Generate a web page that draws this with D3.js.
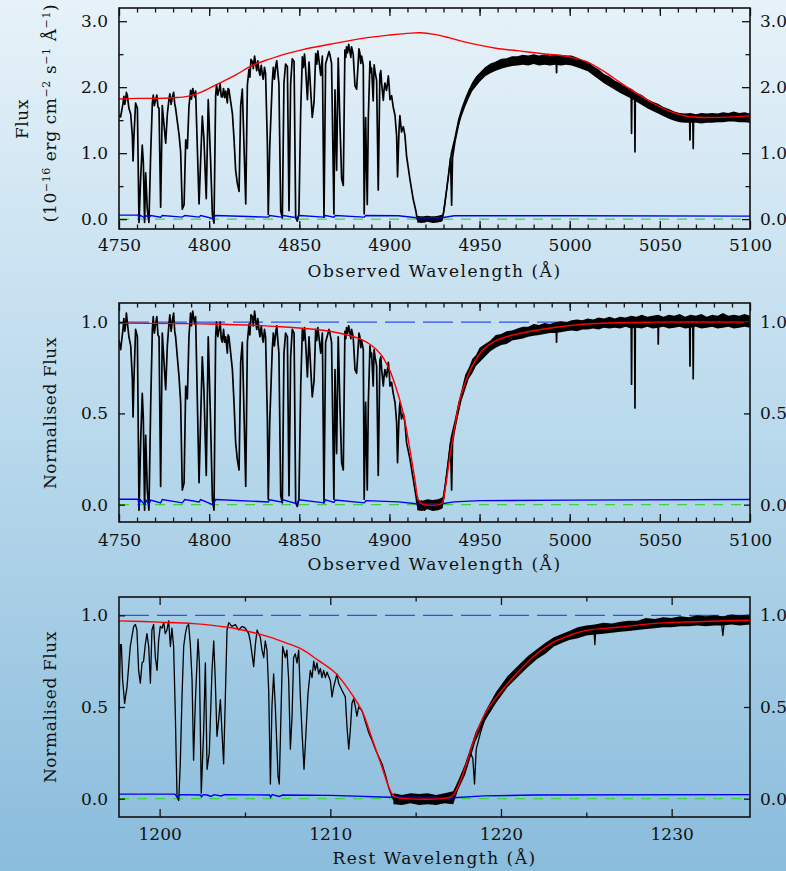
<!DOCTYPE html>
<html><head><meta charset="utf-8">
<script src="https://cdn.jsdelivr.net/npm/d3@7"></script>
<style>
html,body{margin:0;padding:0;}
body{width:786px;height:871px;overflow:hidden;}
</style></head><body><div id="chart"></div>
<script>
// ---- panel 1: observed flux (10^-16 erg/cm2/s/A) ----
const p1Flux = [
 [4750.0,1.58],[4750.9,1.55],[4752.2,1.75],[4752.7,1.86],[4753.2,1.74],[4753.7,1.81],[4754.1,1.92],[4754.6,1.88],[4755.5,1.68],[4756.5,1.59],[4757.4,1.26],[4757.8,0.88],
 [4758.3,1.26],[4759.2,1.76],[4760.2,1.68],[4761.1,-0.05],[4762.0,0.62],[4762.9,1.12],[4763.5,0.86],[4764.2,-0.05],[4764.8,0.70],[4765.7,0.15],[4766.6,-0.05],[4767.6,1.02],
 [4768.5,1.76],[4769.0,1.88],[4769.6,1.72],[4770.3,1.81],[4771.0,1.88],[4771.6,1.70],[4772.2,1.68],[4773.1,0.18],[4774.0,1.72],[4775.9,1.15],[4776.8,1.59],[4777.7,1.81],
 [4778.2,1.90],[4778.9,1.74],[4779.6,1.85],[4780.3,1.92],[4780.9,1.75],[4781.4,1.68],[4783.3,1.28],[4784.2,1.02],[4785.1,0.15],[4786.1,0.22],[4787.0,1.20],[4787.9,1.07],
 [4788.8,1.70],[4789.7,1.95],[4790.2,1.82],[4790.9,1.98],[4791.6,1.89],[4792.0,1.85],[4792.5,1.94],[4794.4,0.23],[4795.3,0.90],[4796.2,1.56],[4797.1,1.22],[4798.4,0.31],
 [4799.5,1.81],[4800.8,0.89],[4801.8,0.06],[4802.7,-0.06],[4803.6,1.86],[4804.1,2.04],[4804.8,1.88],[4805.5,1.96],[4806.1,2.05],[4806.7,1.86],[4807.3,1.85],[4808.0,1.98],
 [4808.6,1.84],[4809.2,1.94],[4810.1,1.76],[4810.5,1.98],[4811.0,1.96],[4812.9,1.60],[4813.8,1.22],[4814.7,0.74],[4815.6,0.55],[4816.6,0.42],[4817.5,1.72],[4818.4,1.97],
 [4820.3,0.23],[4821.2,2.03],[4822.1,2.27],[4822.6,2.15],[4823.2,2.42],[4824.0,2.39],[4824.5,2.28],[4825.2,2.47],[4825.8,2.36],[4826.4,2.25],[4827.0,2.40],[4827.6,2.26],
 [4828.2,2.18],[4828.9,2.33],[4829.5,2.19],[4830.0,2.12],[4830.7,2.30],[4831.3,2.21],[4832.3,1.14],[4832.8,0.07],[4833.6,1.09],[4835.0,2.07],[4835.6,2.30],[4836.2,2.12],
 [4836.9,2.31],[4837.5,2.40],[4838.1,2.22],[4838.7,2.05],[4839.7,0.12],[4840.6,0.02],[4841.5,2.07],[4842.4,2.35],[4843.4,2.31],[4844.3,0.13],[4845.2,2.05],[4846.1,2.43],
 [4847.1,2.39],[4848.0,0.03],[4848.9,-0.03],[4849.8,0.08],[4850.8,1.66],[4851.7,2.46],[4852.3,2.30],[4852.9,2.50],[4853.5,2.29],[4854.5,1.81],[4855.4,2.38],[4857.2,1.54],
 [4858.2,1.78],[4859.1,2.51],[4859.7,2.35],[4860.3,2.55],[4860.9,2.41],[4861.9,2.18],[4862.8,2.47],[4863.7,0.03],[4864.6,2.35],[4866.5,2.54],
 [4867.0,2.49],[4867.9,2.36],[4869.2,0.08],[4869.8,1.96],[4870.7,0.74],[4871.6,2.44],[4872.5,1.49],[4873.5,0.61],[4874.4,0.51],[4875.3,2.56],[4875.8,2.45],[4876.2,2.61],
 [4876.8,2.52],[4877.4,2.65],[4878.1,2.54],[4878.6,2.45],[4879.0,2.61],[4879.9,2.50],[4880.9,2.02],[4881.8,1.97],[4882.7,2.38],[4883.1,2.58],[4883.6,2.52],[4884.1,2.36],
 [4884.6,2.47],[4885.5,2.33],[4886.0,0.08],[4886.8,1.54],[4887.7,0.22],[4888.3,1.54],[4889.2,2.39],[4889.7,2.22],[4890.1,2.29],[4891.0,1.79],[4891.5,2.34],[4892.0,2.24],
 [4892.9,2.10],[4893.8,0.44],[4894.7,2.19],[4895.2,2.25],[4895.7,2.05],[4896.6,1.80],[4897.0,1.95],[4897.5,2.06],[4898.4,1.95],[4898.9,2.05],[4899.4,2.17],[4899.9,2.00],
 [4900.3,1.81],[4901.2,1.87],[4902.1,1.70],[4903.1,1.57],[4904.0,1.26],[4904.5,0.64],[4905.3,1.34],[4905.8,1.57],[4906.7,1.32],[4907.7,1.40],[4908.6,1.27],[4909.5,0.96],
 [4911.4,0.60],[4913.2,0.30],[4914.7,0.12],[4915.4,0.00],
 [4916.5,-0.03],[4918.0,0.03],[4919.5,-0.04],[4921.0,0.02],[4922.5,-0.03],[4924.0,0.03],[4925.5,-0.02],[4927.0,0.02],[4928.5,-0.03],[4929.9,0.08],
 [4930.8,0.25],[4932.6,0.63],[4933.9,0.93],[4934.5,0.21],[4935.0,0.93],[4936.3,1.17],[4939.1,1.54],[4942.8,1.82],[4946.5,2.03],[4952.0,2.22],[4959.4,2.33],[4968.7,2.39],
 [4984.0,2.41],[4992.5,2.41],[4992.7,2.22],[4992.9,2.41],[5000.0,2.41],[5009.4,2.33],[5014.9,2.21],[5020.5,2.11],[5026.0,2.01],[5031.6,1.93],[5034.1,1.90],[5034.3,1.30],
 [5034.5,1.89],[5036.0,1.87],[5036.2,1.02],[5036.4,1.86],[5042.7,1.75],[5048.2,1.68],[5053.7,1.60],[5059.3,1.55],[5066.5,1.53],[5066.7,1.20],[5066.9,1.53],[5068.3,1.53],
 [5068.5,1.07],[5068.7,1.53],[5075.9,1.53],[5090.7,1.55],[5100.0,1.53]
];
// noise envelope [wavelength, low, high] where the spectrum is a dense band
const p1Noise = [
 [4915.4,-0.05,0.05],[4918,-0.06,0.04],[4921,-0.04,0.05],[4924,-0.06,0.04],[4927,-0.05,0.05],[4929.5,-0.03,0.07],[4930.8,0.16,0.32],[4932.6,0.56,0.70],
 [4933.9,0.86,1.00],[4936,1.10,1.24],[4938,1.37,1.51],[4940,1.55,1.69],[4942,1.70,1.84],[4944,1.83,1.97],[4946,1.94,2.08],[4948,2.01,2.16],[4950,2.08,2.22],
 [4953,2.16,2.30],[4956,2.21,2.36],[4959,2.25,2.39],[4962,2.28,2.43],[4965,2.30,2.44],[4968,2.32,2.47],[4971,2.33,2.47],[4974,2.34,2.49],[4977,2.33,2.48],
 [4980,2.35,2.50],[4983,2.33,2.48],[4986,2.34,2.50],[4989,2.33,2.48],[4992,2.34,2.49],[4995,2.33,2.49],[4998,2.34,2.48],[5001,2.33,2.48],[5004,2.30,2.45],
 [5007,2.27,2.41],[5010,2.24,2.39],[5013,2.18,2.32],[5016,2.12,2.27],[5019,2.06,2.20],[5022,2.01,2.16],[5025,1.96,2.10],[5028,1.91,2.06],[5031,1.87,2.01],
 [5034,1.83,1.98],[5037,1.78,1.92],[5040,1.73,1.88],[5043,1.68,1.82],[5046,1.64,1.78],[5049,1.60,1.75],[5052,1.56,1.70],[5055,1.52,1.67],[5058,1.49,1.63],
 [5061,1.47,1.61],[5064,1.46,1.60],[5067,1.46,1.61],[5070,1.46,1.59],[5073,1.45,1.61],[5076,1.46,1.60],[5079,1.46,1.61],[5082,1.47,1.60],[5085,1.47,1.62],
 [5088,1.48,1.61],[5091,1.48,1.63],[5094,1.47,1.61],[5097,1.47,1.62],[5100,1.46,1.60]
];
const p1Cont = [
 [4750,1.82],[4760,1.83],[4770,1.83],[4780,1.84],[4788,1.86],[4796,1.93],[4805,2.05],[4815,2.19],[4824,2.33],[4833,2.42],[4842,2.50],[4852,2.57],
 [4867,2.65],[4885,2.74],[4900,2.79],[4910,2.815],[4917,2.825],[4925,2.80],[4933,2.75],[4941,2.69],[4959,2.59],[4972,2.55],[4984,2.51],[5000,2.46],[5009,2.39],
 [5019,2.24],[5028,2.07],[5037,1.91],[5046,1.76],[5056,1.63],[5065,1.56],[5076,1.54],[5091,1.55],[5100,1.565]
];
const p1Err = [
 [4750,0.06],[4760.5,0.06],[4761.1,0.02],[4762,0.055],[4764.2,0.02],[4765,0.055],[4766.6,0.02],[4767.6,0.055],[4773.1,0.03],[4774,0.055],[4785.1,0.03],[4786.5,0.055],
 [4794.4,0.03],[4795.3,0.055],[4802,0.01],[4803.6,0.055],[4832.8,0.03],[4833.6,0.055],[4840,0.03],[4841,0.055],[4848.5,0.02],[4850,0.055],[4863.7,0.03],[4864.6,0.055],
 [4869.2,0.03],[4870,0.055],[4886,0.03],[4887,0.055],[4905,0.05],[4915,0.02],[4929,0.02],[4936,0.05],[5000,0.05],[5100,0.045]
];

// ---- panel 2: normalised flux vs observed wavelength ----
const p2Norm = [
 [4750.0,0.90],[4750.9,0.85],[4752.2,0.96],[4752.7,1.02],[4753.2,0.95],[4753.7,0.99],[4754.1,1.05],[4754.6,1.00],[4755.5,0.92],[4756.5,0.87],[4757.4,0.69],[4757.8,0.48],
 [4758.3,0.69],[4759.2,0.96],[4760.2,0.92],[4761.1,-0.03],[4762.0,0.34],[4762.9,0.61],[4763.5,0.47],[4764.2,-0.03],[4764.8,0.38],[4765.7,0.08],[4766.6,-0.03],[4767.6,0.56],
 [4768.5,0.96],[4769.0,1.03],[4769.6,0.94],[4770.3,0.99],[4771.0,1.03],[4771.6,0.93],[4772.2,0.92],[4773.1,0.10],[4774.0,0.94],[4775.9,0.63],[4776.8,0.87],[4777.7,0.99],
 [4778.2,1.04],[4778.9,0.95],[4779.6,1.01],[4780.3,1.05],[4780.9,0.95],[4781.4,0.92],[4783.3,0.70],[4784.2,0.56],[4785.1,0.08],[4786.1,0.12],[4787.0,0.65],[4787.9,0.58],
 [4788.8,0.92],[4789.7,1.05],[4790.2,0.98],[4790.9,1.06],[4791.6,1.01],[4792.0,0.99],[4792.5,1.03],[4794.4,0.12],[4795.3,0.47],[4796.2,0.81],[4797.1,0.63],[4798.4,0.16],
 [4799.5,0.92],[4800.8,0.45],[4801.8,0.03],[4802.7,-0.03],[4803.6,0.92],[4804.1,1.00],[4804.8,0.92],[4805.5,0.96],[4806.1,1.00],[4806.7,0.91],[4807.3,0.89],[4808.0,0.96],
 [4808.6,0.89],[4809.2,0.92],[4810.1,0.83],[4810.5,0.93],[4811.0,0.92],[4812.9,0.74],[4813.8,0.56],[4814.7,0.34],[4815.6,0.25],[4816.6,0.19],[4817.5,0.78],[4818.4,0.89],
 [4820.3,0.10],[4821.2,0.89],[4822.1,0.99],[4822.6,0.93],[4823.2,1.04],[4824.0,1.03],[4824.5,0.98],[4825.2,1.06],[4825.8,1.01],[4826.4,0.96],[4827.0,1.02],[4827.6,0.96],
 [4828.2,0.92],[4828.9,0.98],[4829.5,0.92],[4830.0,0.89],[4830.7,0.96],[4831.3,0.92],[4832.3,0.47],[4832.8,0.03],[4833.6,0.45],[4835.0,0.85],[4835.6,0.94],[4836.2,0.87],
 [4836.9,0.94],[4837.5,0.98],[4838.1,0.90],[4838.7,0.83],[4839.7,0.05],[4840.6,0.01],[4841.5,0.83],[4842.4,0.94],[4843.4,0.92],[4844.3,0.05],[4845.2,0.81],[4846.1,0.96],
 [4847.1,0.94],[4848.0,0.01],[4848.9,-0.01],[4849.8,0.03],[4850.8,0.65],[4851.7,0.96],[4852.3,0.90],[4852.9,0.97],[4853.5,0.89],[4854.5,0.70],[4855.4,0.92],[4857.2,0.59],
 [4858.2,0.68],[4859.1,0.96],[4859.7,0.90],[4860.3,0.97],[4860.9,0.92],[4861.9,0.83],[4862.8,0.94],[4863.7,0.01],[4864.6,0.89],[4866.5,0.96],
 [4867.0,0.94],[4867.9,0.89],[4869.2,0.03],[4869.8,0.74],[4870.7,0.28],[4871.6,0.92],[4872.5,0.56],[4873.5,0.23],[4874.4,0.19],[4875.3,0.95],[4875.8,0.91],[4876.2,0.97],
 [4876.8,0.94],[4877.4,0.98],[4878.1,0.94],[4878.6,0.91],[4879.0,0.96],[4879.9,0.92],[4880.9,0.74],[4881.8,0.72],[4882.7,0.87],[4883.1,0.94],[4883.6,0.92],[4884.1,0.86],
 [4884.6,0.90],[4885.5,0.85],[4886.0,0.03],[4886.8,0.56],[4887.7,0.08],[4888.3,0.56],[4889.2,0.87],[4889.7,0.81],[4890.1,0.83],[4891.0,0.65],[4891.5,0.85],[4892.0,0.81],
 [4892.9,0.76],[4893.8,0.16],[4894.7,0.79],[4895.2,0.81],[4895.7,0.74],[4896.6,0.65],[4897.0,0.70],[4897.5,0.74],[4898.4,0.70],[4898.9,0.74],[4899.4,0.78],[4899.9,0.72],
 [4900.3,0.65],[4901.2,0.67],[4902.1,0.61],[4903.1,0.56],[4904.0,0.45],[4904.5,0.23],[4905.3,0.48],[4905.8,0.56],[4906.7,0.47],[4907.7,0.50],[4908.6,0.45],[4909.5,0.34],
 [4911.4,0.25],[4913.2,0.14],[4914.7,0.05],[4915.4,0.00],
 [4916.5,-0.02],[4918.0,0.02],[4919.5,-0.03],[4921.0,0.01],[4922.5,-0.02],[4924.0,0.02],[4925.5,-0.02],[4927.0,0.01],[4928.5,-0.02],[4929.9,0.03],
 [4930.8,0.09],[4932.6,0.23],[4933.9,0.34],[4934.5,0.08],[4935.0,0.34],[4936.3,0.43],[4939.1,0.57],[4942.8,0.68],[4946.5,0.77],[4952.0,0.85],[4959.4,0.90],[4968.7,0.93],
 [4984.0,0.96],[4992.5,0.97],[4992.7,0.89],[4992.9,0.97],[5009.0,0.99],[5034.1,1.00],[5034.3,0.66],[5034.5,1.00],[5036.0,1.00],[5036.2,0.53],[5036.4,1.00],[5049.0,1.00],
 [5049.1,0.88],[5049.3,1.00],[5066.5,1.00],[5066.7,0.76],[5066.9,1.00],[5068.3,1.00],[5068.5,0.69],[5068.7,1.00],[5100.0,1.00]
];
const p2Noise = [
 [4915.4,-0.03,0.03],[4918,-0.035,0.02],[4921,-0.025,0.03],[4924,-0.035,0.025],[4927,-0.03,0.03],[4929.5,-0.02,0.04],[4930.8,0.06,0.12],[4932.6,0.20,0.26],
 [4933.9,0.31,0.37],[4936.3,0.40,0.47],[4938,0.48,0.55],[4940,0.57,0.63],[4942,0.63,0.71],[4944,0.69,0.75],[4946,0.72,0.80],[4948,0.76,0.82],[4950,0.78,0.86],
 [4953,0.81,0.88],[4956,0.84,0.90],[4959,0.86,0.93],[4962,0.875,0.935],[4965,0.88,0.95],[4968,0.90,0.955],[4971,0.905,0.965],[4974,0.91,0.975],[4977,0.92,0.975],
 [4980,0.925,0.99],[4983,0.93,0.985],[4986,0.935,0.995],[4989,0.94,0.99],[4992,0.94,1.0],[4995,0.945,1.005],[4998,0.95,1.0],[5001,0.955,1.01],[5004,0.95,1.015],
 [5007,0.96,1.01],[5010,0.96,1.02],[5013,0.965,1.015],[5016,0.96,1.025],[5019,0.97,1.02],[5022,0.965,1.03],[5025,0.97,1.02],[5028,0.965,1.03],[5031,0.975,1.025],
 [5034,0.965,1.035],[5037,0.97,1.03],[5040,0.965,1.04],[5043,0.975,1.03],[5046,0.965,1.035],[5049,0.97,1.04],[5052,0.975,1.03],[5055,0.965,1.04],[5058,0.97,1.035],
 [5061,0.975,1.045],[5064,0.965,1.03],[5067,0.97,1.04],[5070,0.975,1.035],[5073,0.965,1.045],[5076,0.97,1.03],[5079,0.975,1.04],[5082,0.965,1.035],[5085,0.97,1.05],
 [5088,0.975,1.035],[5091,0.965,1.04],[5094,0.97,1.035],[5097,0.975,1.045],[5100,0.97,1.035]
];
const p2Model = [
 [4750,0.995],[4800,0.99],[4840,0.975],[4867,0.95],[4885.5,0.90],[4894.7,0.83],[4900,0.74],[4904,0.63],[4907.7,0.50],[4911.4,0.30],[4914.1,0.14],[4916,0.03],
 [4917.8,0.006],[4928.9,0.006],[4930.8,0.08],[4933.6,0.27],[4936.3,0.43],[4939.1,0.58],[4942.8,0.69],[4946.5,0.77],[4952,0.85],[4959.4,0.90],[4968.7,0.93],
 [4984,0.96],[4991,0.97],[5009,0.99],[5046,1.0],[5100,1.0]
];
const p2Err = [
 [4750,0.03],[4760.5,0.03],[4761.1,0.0],[4762,0.025],[4764.2,0.0],[4765,0.025],[4766.6,0.0],[4767.6,0.025],[4773.1,0.01],[4774,0.028],[4785.1,0.01],[4786.5,0.028],
 [4794.4,0.015],[4795.3,0.028],[4802,0.0],[4803.6,0.028],[4832.8,0.015],[4833.6,0.027],[4840,0.015],[4841,0.027],[4848.5,0.005],[4850,0.027],[4863.7,0.01],[4864.6,0.027],
 [4869.2,0.012],[4870,0.025],[4886,0.01],[4887,0.022],[4905,0.015],[4915,0.005],[4929,0.005],[4936,0.015],[4950,0.022],[5000,0.025],[5100,0.028]
];

// ---- panel 3: normalised flux vs rest wavelength ----
const p3Norm = [
 [1197.62,0.48],[1197.70,0.84],[1197.76,0.84],[1197.83,0.65],[1197.95,0.52],[1198.09,0.61],[1198.28,0.83],[1198.48,0.94],[1198.58,0.95],[1198.67,0.92],[1198.77,0.70],
 [1198.87,0.63],[1198.97,0.74],[1199.06,0.75],[1199.16,0.84],[1199.26,0.90],[1199.36,0.83],[1199.46,0.63],[1199.55,0.92],[1199.65,0.95],[1199.75,0.77],[1199.85,0.70],
 [1199.94,0.86],[1200.04,0.94],[1200.14,0.93],[1200.24,0.96],[1200.33,0.90],[1200.43,0.92],[1200.53,0.97],[1200.63,0.83],[1200.72,0.93],[1200.82,0.83],[1200.92,0.46],
 [1201.02,0.01],[1201.12,-0.01],[1201.21,0.19],[1201.31,0.55],[1201.41,0.83],[1201.51,0.90],[1201.60,0.94],[1201.70,0.95],[1201.80,0.84],[1201.90,0.65],[1201.99,0.21],
 [1202.09,0.52],[1202.25,0.87],[1202.33,0.74],[1202.44,0.03],[1202.58,0.37],[1202.68,0.74],[1202.78,0.16],[1202.91,0.25],[1203.07,0.70],[1203.17,0.86],[1203.26,0.65],
 [1203.36,0.34],[1203.46,0.43],[1203.56,0.54],[1203.65,0.37],[1203.75,0.19],[1203.85,0.55],[1203.95,0.92],[1204.05,0.96],[1204.24,0.94],[1204.44,0.95],[1204.63,0.92],
 [1204.83,0.94],[1205.02,0.93],[1205.22,0.90],[1205.31,0.86],[1205.41,0.79],[1205.51,0.72],[1205.61,0.84],[1205.71,0.92],[1205.80,0.90],[1205.90,0.88],[1206.00,0.81],
 [1206.10,0.77],[1206.19,0.86],[1206.29,0.81],[1206.39,0.59],[1206.49,0.08],[1206.58,0.50],[1206.68,0.68],[1206.78,0.50],[1206.94,0.12],[1207.01,0.08],[1207.11,0.46],
 [1207.21,0.83],[1207.37,0.77],[1207.46,0.81],[1207.56,0.65],[1207.66,0.27],[1207.76,0.45],[1207.85,0.77],[1207.95,0.79],[1208.05,0.74],[1208.15,0.81],[1208.24,0.57],
 [1208.34,0.37],[1208.46,0.16],[1208.58,0.37],[1208.69,0.57],[1208.83,0.70],[1208.93,0.66],[1209.03,0.75],[1209.12,0.70],[1209.22,0.74],[1209.32,0.68],[1209.42,0.71],
 [1209.51,0.66],[1209.61,0.70],[1209.71,0.66],[1209.81,0.69],[1210.00,0.645],[1210.10,0.555],[1210.20,0.61],[1210.39,0.68],[1210.49,0.63],[1210.69,0.59],[1210.88,0.555],
 [1210.98,0.39],[1211.08,0.27],[1211.17,0.37],[1211.27,0.52],[1211.37,0.545],[1211.47,0.50],[1211.56,0.45],[1211.66,0.50],[1211.86,0.48],[1211.96,0.45],[1212.05,0.42],
 [1212.25,0.36],[1212.44,0.32],[1212.64,0.27],[1212.83,0.23],[1213.03,0.19],[1213.23,0.13],[1213.42,0.06],[1213.62,0.01],
 [1213.8,-0.02],[1214.1,0.01],[1214.4,-0.02],[1214.7,0.00],[1215.0,-0.015],[1215.3,0.01],[1215.6,-0.02],[1215.9,0.0],[1216.2,-0.015],[1216.5,0.01],[1216.8,-0.01],[1217.1,0.01],
 [1217.33,0.04],[1217.52,0.08],[1217.9,0.16],[1218.2,0.25],[1218.35,0.22],[1218.45,0.08],[1218.55,0.27],[1218.8,0.36],[1219.1,0.45],[1219.7,0.55],[1220.4,0.64],
 [1221.1,0.70],[1222.1,0.79],[1223.1,0.855],[1224.0,0.89],[1225.0,0.918],[1225.45,0.92],[1225.5,0.84],[1225.55,0.92],[1227.0,0.94],[1228.9,0.96],[1230.9,0.97],
 [1232.9,0.975],[1233.0,0.89],[1233.1,0.975],[1234.59,0.98]
];
const p3Noise = [
 [1213.7,-0.03,0.03],[1214.2,-0.035,0.02],[1214.7,-0.025,0.03],[1215.2,-0.035,0.025],[1215.7,-0.03,0.03],[1216.2,-0.035,0.02],[1216.7,-0.025,0.03],[1217.2,-0.03,0.04],
 [1217.5,0.05,0.10],[1217.9,0.13,0.19],[1218.5,0.31,0.36],[1219.1,0.43,0.48],[1219.7,0.52,0.58],[1220.4,0.61,0.67],[1221.1,0.675,0.735],[1221.6,0.72,0.78],
 [1222.1,0.76,0.815],[1222.6,0.79,0.85],[1223.1,0.83,0.88],[1223.6,0.85,0.90],[1224.0,0.865,0.915],[1224.5,0.875,0.935],[1225.0,0.89,0.945],[1225.5,0.895,0.95],
 [1226.0,0.90,0.96],[1226.5,0.905,0.955],[1227.0,0.91,0.965],[1227.5,0.915,0.97],[1228.0,0.92,0.97],[1228.5,0.925,0.985],[1229.0,0.93,0.98],[1229.5,0.935,0.99],
 [1230.0,0.935,0.985],[1230.5,0.94,0.995],[1231.0,0.94,0.99],[1231.5,0.945,1.0],[1232.0,0.94,0.995],[1232.5,0.945,1.0],[1233.0,0.945,0.995],[1233.5,0.95,1.005],
 [1234.0,0.945,1.0],[1234.59,0.95,1.005]
];
const p3Model = [
 [1197.62,0.97],[1200,0.963],[1202,0.955],[1204,0.935],[1205.4,0.908],[1206.5,0.88],[1207.4,0.85],[1208.3,0.817],[1209.3,0.754],[1210.3,0.685],[1211.3,0.564],
 [1211.9,0.47],[1212.4,0.34],[1213.0,0.18],[1213.4,0.07],[1213.7,0.015],[1214.0,0.004],[1216.9,0.004],[1217.2,0.02],[1217.5,0.07],[1217.9,0.17],[1218.5,0.34],
 [1219.1,0.47],[1219.7,0.55],[1220.4,0.63],[1221.1,0.70],[1222.1,0.79],[1223.1,0.855],[1224.0,0.89],[1225.0,0.918],[1227.0,0.936],[1228.9,0.955],[1230.9,0.964],
 [1232.8,0.969],[1234.59,0.973]
];
const p3Err = [
 [1197.62,0.025],[1200.9,0.025],[1201.05,0.005],[1201.2,0.022],[1202.4,0.02],[1202.45,0.01],[1202.55,0.022],[1202.8,0.02],[1203.0,0.012],[1203.2,0.022],[1203.6,0.015],
 [1203.8,0.022],[1206.45,0.02],[1206.5,0.008],[1206.6,0.022],[1207.0,0.012],[1207.2,0.02],[1210,0.018],[1213.5,0.008],[1217.2,0.005],[1219,0.015],[1222,0.02],[1234.59,0.022]
];

// ---- axes ----
const obsMajor = [4750, 4800, 4850, 4900, 4950, 5000, 5050, 5100];
const obsMinor = d3.range(4760, 5100, 10);
const restMajor = [1200, 1210, 1220, 1230];
const restMinor = [1205, 1215, 1225];
const fluxTicks = [0, 1, 2, 3];
const fluxMinor = [0.5, 1.5, 2.5];
const normTicks = [0, 0.5, 1];

const W = 786, H = 871;
const left = 119, right = 750;
const fontFam = "'DejaVu Serif', serif";

const svg = d3.select("#chart").append("svg").attr("width", W).attr("height", H);
const grad = svg.append("defs").append("linearGradient").attr("id", "bg")
    .attr("x1", 0).attr("y1", 0).attr("x2", 0).attr("y2", 1);
grad.append("stop").attr("offset", "0%").attr("stop-color", "#e7f2f9");
grad.append("stop").attr("offset", "50%").attr("stop-color", "#b9d9ec");
grad.append("stop").attr("offset", "100%").attr("stop-color", "#8abcdc");
svg.append("rect").attr("width", W).attr("height", H).attr("fill", "url(#bg)");

function drawPanel(cfg) {
    const x = d3.scaleLinear().domain(cfg.xDomain).range([left, right]);
    const y = d3.scaleLinear().domain(cfg.yDomain).range([cfg.bottom, cfg.top]);
    const g = svg.append("g");

    svg.append("clipPath").attr("id", "clip" + cfg.id)
        .append("rect").attr("x", left).attr("y", cfg.top)
        .attr("width", right - left).attr("height", cfg.bottom - cfg.top);
    const plot = g.append("g").attr("clip-path", "url(#clip" + cfg.id + ")");

    const line = d3.line().x(d => x(d[0])).y(d => y(d[1]));
    const smooth = d3.line().x(d => x(d[0])).y(d => y(d[1])).curve(d3.curveCatmullRom);
    const band = d3.area().x(d => x(d[0])).y0(d => y(d[1])).y1(d => y(d[2]));

    // zero level
    plot.append("line")
        .attr("x1", left).attr("x2", right).attr("y1", y(0)).attr("y2", y(0))
        .attr("stroke", "#3ad83a").attr("stroke-width", 1.4).attr("stroke-dasharray", "10,8");
    // unity level
    if (cfg.unity) {
        plot.append("line")
            .attr("x1", left).attr("x2", right).attr("y1", y(1)).attr("y2", y(1))
            .attr("stroke", "#3050e8").attr("stroke-width", 1.4).attr("stroke-dasharray", "30,8");
    }

    plot.append("path").datum(cfg.noise).attr("d", band).attr("fill", "#000");
    plot.append("path").datum(cfg.spec).attr("d", line)
        .attr("fill", "none").attr("stroke", "#000").attr("stroke-width", cfg.specWidth)
        .attr("stroke-linejoin", "round");
    plot.append("path").datum(cfg.err).attr("d", line)
        .attr("fill", "none").attr("stroke", "#0000f0").attr("stroke-width", 1.4);
    plot.append("path").datum(cfg.model).attr("d", smooth)
        .attr("fill", "none").attr("stroke", "#ff0000").attr("stroke-width", 1.4);

    // ticks (inward) and labels
    [d3.axisBottom(x).tickValues(cfg.xMajor).tickSize(-8).tickPadding(cfg.xPad).tickFormat(d3.format("d")),
     d3.axisBottom(x).tickValues(cfg.xMinor).tickSize(-4.5).tickFormat("")]
        .forEach(a => g.append("g").attr("class", "ax").attr("transform", `translate(0,${cfg.bottom})`).call(a));
    [d3.axisTop(x).tickValues(cfg.xMajor).tickSize(-8).tickFormat(""),
     d3.axisTop(x).tickValues(cfg.xMinor).tickSize(-4.5).tickFormat("")]
        .forEach(a => g.append("g").attr("class", "ax").attr("transform", `translate(0,${cfg.top})`).call(a));
    g.append("g").attr("class", "ax").attr("transform", `translate(${left},0)`)
        .call(d3.axisLeft(y).tickValues(cfg.yMajor).tickSize(-cfg.yTick).tickPadding(11).tickFormat(d3.format(".1f")));
    g.append("g").attr("class", "ax").attr("transform", `translate(${right},0)`)
        .call(d3.axisRight(y).tickValues(cfg.yMajor).tickSize(-cfg.yTick).tickPadding(10).tickFormat(d3.format(".1f")));
    if (cfg.yMinor) {
        g.append("g").attr("class", "ax").attr("transform", `translate(${left},0)`)
            .call(d3.axisLeft(y).tickValues(cfg.yMinor).tickSize(-4.5).tickFormat(""));
        g.append("g").attr("class", "ax").attr("transform", `translate(${right},0)`)
            .call(d3.axisRight(y).tickValues(cfg.yMinor).tickSize(-4.5).tickFormat(""));
    }
    g.selectAll(".ax .domain").remove();
    g.selectAll(".ax line").attr("stroke", "#111").attr("stroke-width", 1.3);
    g.selectAll(".ax text").attr("font-family", fontFam).attr("font-size", 17).attr("fill", "#111");

    // frame
    g.append("rect").attr("x", left).attr("y", cfg.top)
        .attr("width", right - left).attr("height", cfg.bottom - cfg.top)
        .attr("fill", "none").attr("stroke", "#111").attr("stroke-width", 1.6);

    // x title
    g.append("text").attr("x", (left + right) / 2).attr("y", cfg.xTitleY)
        .attr("text-anchor", "middle").attr("font-family", fontFam).attr("font-size", 17)
        .attr("letter-spacing", 1.5).attr("fill", "#111").text(cfg.xTitle);
    return { x, y, g };
}

drawPanel({
    id: 1, top: 8, bottom: 229, xDomain: [4750, 5100], yDomain: [-0.15, 3.2],
    xMajor: obsMajor, xMinor: obsMinor, yMajor: fluxTicks, yMinor: fluxMinor, yTick: 8, xPad: 10,
    spec: p1Flux, noise: p1Noise, model: p1Cont, err: p1Err, unity: false, specWidth: 1.7,
    xTitle: "Observed Wavelength (Å)", xTitleY: 277
});
drawPanel({
    id: 2, top: 303, bottom: 522, xDomain: [4750, 5100], yDomain: [-0.095, 1.105],
    xMajor: obsMajor, xMinor: obsMinor, yMajor: normTicks, yMinor: null, yTick: 6, xPad: 12,
    spec: p2Norm, noise: p2Noise, model: p2Model, err: p2Err, unity: true, specWidth: 1.7,
    xTitle: "Observed Wavelength (Å)", xTitleY: 570
});
drawPanel({
    id: 3, top: 597, bottom: 817, xDomain: [1197.62, 1234.59], yDomain: [-0.1, 1.1],
    xMajor: restMajor, xMinor: restMinor, yMajor: normTicks, yMinor: null, yTick: 6, xPad: 11,
    spec: p3Norm, noise: p3Noise, model: p3Model, err: p3Err, unity: true, specWidth: 1.3,
    xTitle: "Rest Wavelength (Å)", xTitleY: 864
});

// y titles
function yTitle(cx, cy) {
    return svg.append("text").attr("transform", `translate(${cx},${cy}) rotate(-90)`)
        .attr("text-anchor", "middle").attr("font-family", fontFam).attr("font-size", 17)
        .attr("letter-spacing", 0.6).attr("fill", "#111");
}
yTitle(28, 119).text("Flux");
const t = yTitle(56, 113);
t.append("tspan").text("(10");
t.append("tspan").attr("dy", -6).attr("font-size", 11).text("−16");
t.append("tspan").attr("dy", 6).text(" erg cm");
t.append("tspan").attr("dy", -6).attr("font-size", 11).text("−2");
t.append("tspan").attr("dy", 6).text(" s");
t.append("tspan").attr("dy", -6).attr("font-size", 11).text("−1");
t.append("tspan").attr("dy", 6).text(" Å");
t.append("tspan").attr("dy", -6).attr("font-size", 11).text("−1");
t.append("tspan").attr("dy", 6).text(")");
yTitle(56, 413).text("Normalised Flux");
yTitle(56, 707).text("Normalised Flux");
</script></body></html>
